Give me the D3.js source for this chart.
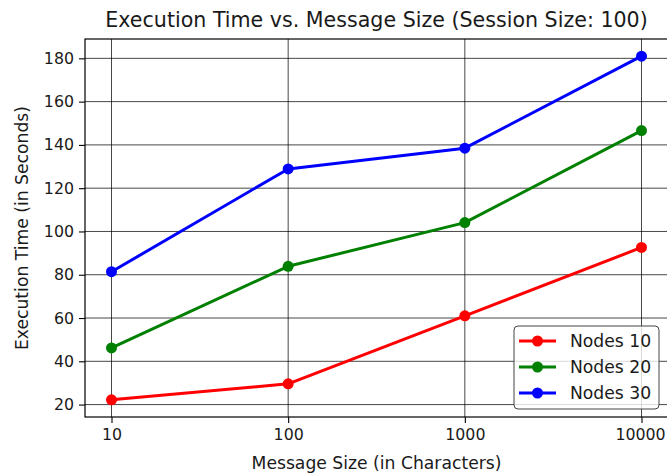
<!DOCTYPE html>
<html>
<head>
<meta charset="utf-8">
<script src="https://cdn.jsdelivr.net/npm/d3@7"></script>
<style>
  html, body { margin: 0; padding: 0; background: #fff; }
  svg { display: block; }
  text { font-family: "DejaVu Sans", sans-serif; fill: #1a1a1a; }
</style>
</head>
<body>
<svg id="chart" width="667" height="473"></svg>
<script>
// Message sizes (characters) on the x axis
const messageSizes = [10, 100, 1000, 10000];
const xTickLabels = ["10", "100", "1000", "10000"];
const yTicks = [20, 40, 60, 80, 100, 120, 140, 160, 180];

// Execution time in seconds for each node count
const nodes10 = [22.2, 29.6, 61.0, 92.6];
const nodes20 = [46.2, 83.9, 104.1, 146.6];
const nodes30 = [81.4, 128.9, 138.5, 181.0];

const seriesNames = ["Nodes 10", "Nodes 20", "Nodes 30"];
const seriesColors = ["#ff0000", "#008000", "#0000ff"];
const seriesValues = [nodes10, nodes20, nodes30];

const tickSize = 15.8;
const labelSize = 17.2;
const titleSize = 20.6;

const svg = d3.select("#chart");
const plot = { left: 85, right: 668, top: 39, bottom: 417 };

// Log x scale padded by 5% of the span on both sides
const lx = d3.extent(messageSizes).map(Math.log10);
const xPad = (lx[1] - lx[0]) * 0.05;
const x = d3.scaleLog()
  .domain([Math.pow(10, lx[0] - xPad), Math.pow(10, lx[1] + xPad)])
  .range([plot.left, plot.right]);

const allVals = seriesValues.flat();
const yMin = d3.min(allVals), yMax = d3.max(allVals);
const yPad = (yMax - yMin) * 0.05;
const y = d3.scaleLinear()
  .domain([yMin - yPad, yMax + yPad])
  .range([plot.bottom, plot.top]);

// Grid
const grid = svg.append("g").attr("stroke", "#000").attr("stroke-opacity", 0.72).attr("stroke-width", 1);
grid.selectAll(".gx").data(messageSizes).join("line")
  .attr("x1", d => x(d)).attr("x2", d => x(d))
  .attr("y1", plot.top).attr("y2", plot.bottom);
grid.selectAll(".gy").data(yTicks).join("line")
  .attr("x1", plot.left).attr("x2", plot.right)
  .attr("y1", d => y(d)).attr("y2", d => y(d));

// Axes
const xAxis = d3.axisBottom(x).tickValues(messageSizes)
  .tickFormat((d, i) => xTickLabels[i]).tickSize(6).tickPadding(6);
const yAxis = d3.axisLeft(y).tickValues(yTicks).tickSize(6).tickPadding(5);

const gx = svg.append("g").attr("transform", `translate(0,${plot.bottom})`).call(xAxis);
const gy = svg.append("g").attr("transform", `translate(${plot.left},0)`).call(yAxis);
[gx, gy].forEach(g => {
  g.select(".domain").remove();
  g.selectAll(".tick line").attr("stroke", "#000").attr("stroke-width", 1.1);
  g.selectAll(".tick text").attr("font-size", tickSize).attr("font-family", "DejaVu Sans").attr("fill", "#1a1a1a");
});
// keep the widest x label inside the page
gx.selectAll(".tick text").filter((d, i) => i === messageSizes.length - 1).attr("dx", -1.5);

// Spines
svg.append("rect")
  .attr("x", plot.left).attr("y", plot.top)
  .attr("width", plot.right - plot.left).attr("height", plot.bottom - plot.top)
  .attr("fill", "none").attr("stroke", "#000").attr("stroke-width", 1.2);

// Series lines and markers
const line = d3.line().x((d, i) => x(messageSizes[i])).y(d => y(d));
seriesValues.forEach((vals, s) => {
  svg.append("path").datum(vals)
    .attr("d", line).attr("fill", "none")
    .attr("stroke", seriesColors[s]).attr("stroke-width", 3)
    .attr("stroke-linejoin", "round");
  svg.append("g").selectAll("circle").data(vals).join("circle")
    .attr("cx", (d, i) => x(messageSizes[i])).attr("cy", d => y(d))
    .attr("r", 5.5).attr("fill", seriesColors[s]);
});

// Title and axis labels
svg.append("text").attr("x", (plot.left + plot.right) / 2).attr("y", 27)
  .attr("text-anchor", "middle").attr("font-size", titleSize)
  .text("Execution Time vs. Message Size (Session Size: 100)");
svg.append("text").attr("x", (plot.left + plot.right) / 2).attr("y", 469)
  .attr("text-anchor", "middle").attr("font-size", labelSize)
  .text("Message Size (in Characters)");
svg.append("text")
  .attr("transform", `translate(28,${(plot.top + plot.bottom) / 2}) rotate(-90)`)
  .attr("text-anchor", "middle").attr("font-size", labelSize)
  .text("Execution Time (in Seconds)");

// Legend
const lg = svg.append("g").attr("transform", "translate(514,326)");
lg.append("rect").attr("width", 145).attr("height", 83).attr("rx", 4)
  .attr("fill", "#fff").attr("fill-opacity", 0.8)
  .attr("stroke", "#444").attr("stroke-width", 1);
seriesNames.forEach((name, i) => {
  const row = lg.append("g").attr("transform", `translate(0,${15 + i * 26})`);
  row.append("line").attr("x1", 5).attr("x2", 42).attr("y1", 0).attr("y2", 0)
    .attr("stroke", seriesColors[i]).attr("stroke-width", 3);
  row.append("circle").attr("cx", 23.5).attr("cy", 0).attr("r", 5.5).attr("fill", seriesColors[i]);
  row.append("text").attr("x", 56).attr("y", 0).attr("dy", "0.35em")
    .attr("font-size", labelSize).text(name);
});
</script>
</body>
</html>
